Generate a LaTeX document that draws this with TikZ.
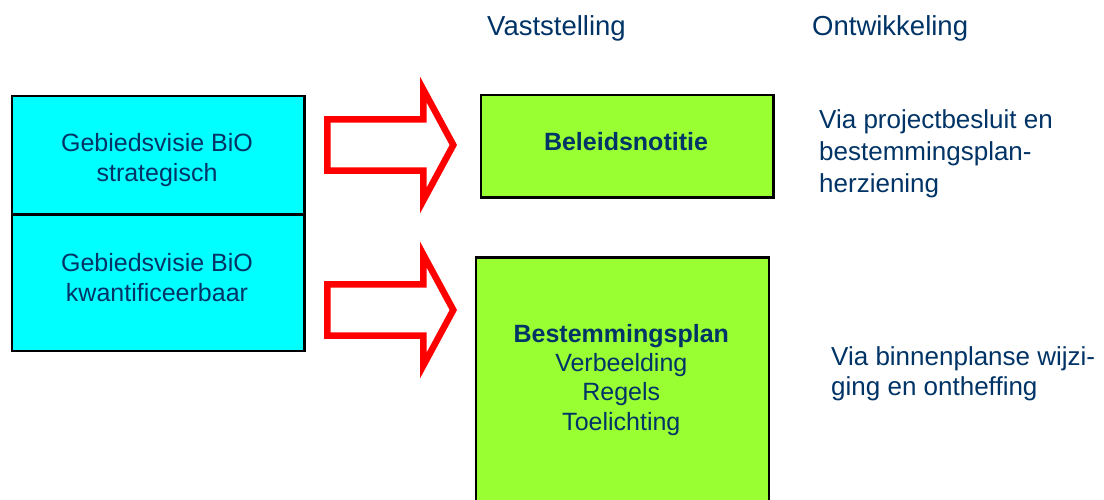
\documentclass[tikz,border=0pt]{standalone}
\usepackage{fontspec}
\setmainfont{Liberation Sans}
\definecolor{txt}{RGB}{0,51,102}
\definecolor{boxcyan}{RGB}{0,255,255}
\definecolor{boxgreen}{RGB}{153,255,51}
\definecolor{arrowred}{RGB}{255,0,0}
\tikzset{
  boxbase/.style={draw=black, line width=2.4pt, inner sep=0pt, anchor=north west},
  cyanbox/.style={boxbase, fill=boxcyan},
  greenbox/.style={boxbase, fill=boxgreen},
  boxtext/.style={text=txt, align=center, inner sep=0pt, font=\fontsize{25}{30}\selectfont},
  sidetext/.style={text=txt, align=left, inner sep=0pt, anchor=west},
  headtext/.style={text=txt, inner sep=0pt, anchor=base west, font=\fontsize{27.5}{33}\selectfont},
  arrowline/.style={draw=arrowred, fill=white, line width=6.5pt, line join=miter},
  bigarrow/.pic={
    \path[arrowline] (0,-25.7) -- (96,-25.7) -- (96,-55.5) -- (126,0) -- (96,55.5) -- (96,25.7) -- (0,25.7) -- cycle;
  }
}
\begin{document}
\begin{tikzpicture}[x=1pt,y=-1pt]
\useasboundingbox (0,0) rectangle (1104,500);
\clip (0,0) rectangle (1104,500);
\fill[white] (0,0) rectangle (1104,500);

% headers
\node[headtext] (hvast) at (487,35.7) {Vaststelling};
\node[headtext] (hontw) at (812,35.7) {Ontwikkeling};

% left cyan boxes
\node[cyanbox, minimum width=292.6pt, minimum height=118.6pt] (vis1) at (10.7,94.7) {};
\node[cyanbox, minimum width=292.6pt, minimum height=136.4pt] (vis2) at (10.7,213.3) {};
\node[boxtext] (vis1t) at (157,160.4) {Gebiedsvisie BiO\\strategisch};
\node[boxtext] (vis2t) at (157,277.6) {Gebiedsvisie BiO\\kwantificeerbaar};

% green boxes
\node[greenbox, minimum width=292.6pt, minimum height=102.6pt] (beleid) at (479.7,93.7) {};
\node[greenbox, minimum width=293.5pt, minimum height=270pt] (bplan) at (474.5,256.2) {};
\node[boxtext, font=\fontsize{25}{30}\selectfont\bfseries] (beleidt) at (626,142) {Beleidsnotitie};
\node[boxtext, font=\fontsize{25}{29.3}\selectfont] (bplant) at (621.3,379.7) {\textbf{Bestemmingsplan}\\Verbeelding\\Regels\\Toelichting};

% block arrows
\pic (arr1) at (327.3,145) {bigarrow};
\pic (arr2) at (327.3,310) {bigarrow};

% right texts
\node[sidetext, font=\fontsize{26}{32}\selectfont] (via1) at (819,153.8) {Via projectbesluit en\\bestemmingsplan-\\herziening};
\node[sidetext, font=\fontsize{26}{29.5}\selectfont] (via2) at (831,373.7) {Via binnenplanse wijzi-\\ging en ontheffing};
\end{tikzpicture}
\end{document}
